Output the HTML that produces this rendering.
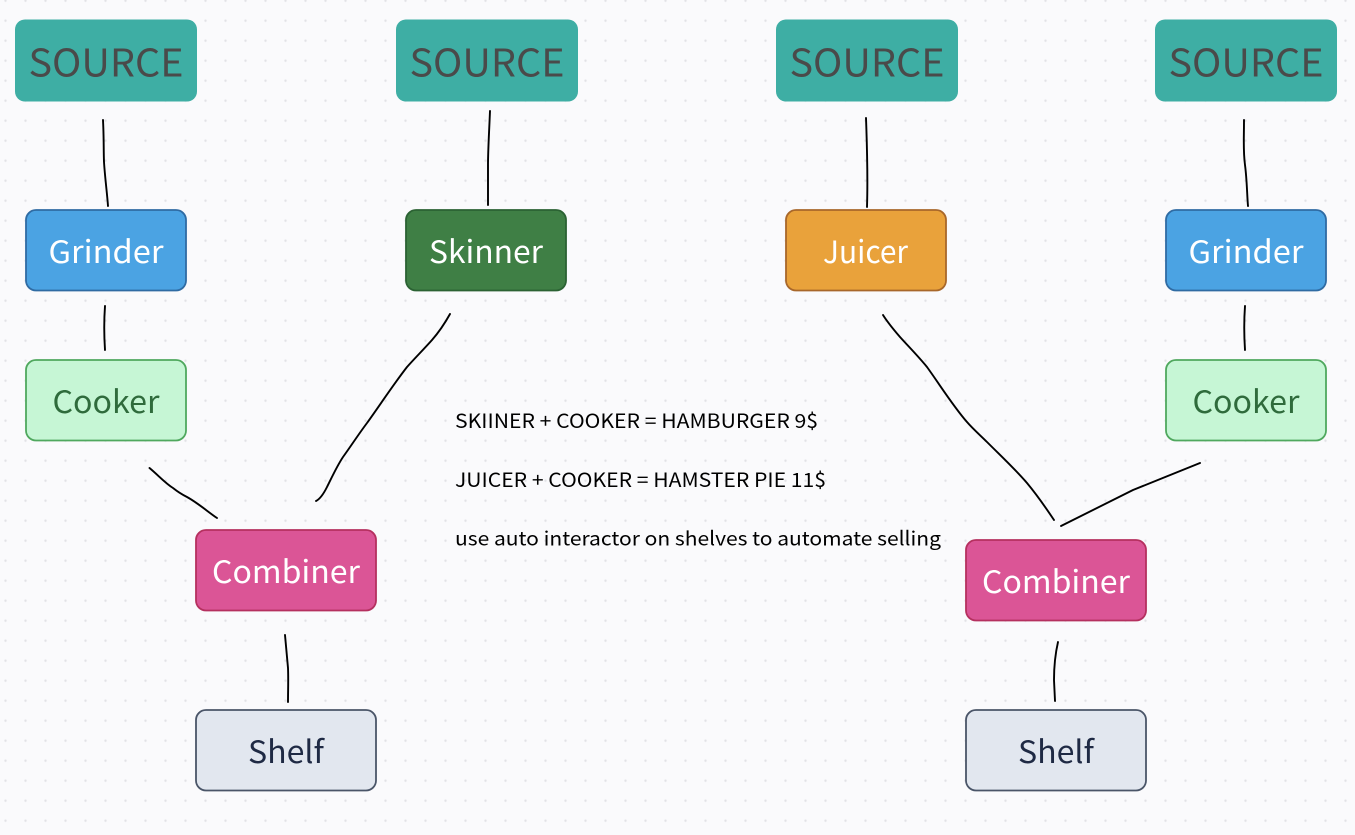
<!DOCTYPE html>
<html><head><meta charset="utf-8">
<style>
html,body{margin:0;padding:0;background:#fafafc;width:1355px;height:835px;overflow:hidden}
svg{display:block}
text{font-family:"Noto Sans CJK JP","Liberation Sans",sans-serif;text-anchor:middle}
.n{font-size:31px}
.s{font-size:38px;fill:#4a4a4a}
.t{font-size:19.5px;fill:#000;text-anchor:start}
.l{fill:none;stroke:#000;stroke-width:1.9;stroke-linecap:round;stroke-linejoin:round}
</style></head><body>
<svg width="1355" height="835" viewBox="0 0 1355 835" xmlns="http://www.w3.org/2000/svg">
<defs><pattern id="d" x="-14.5" y="0.7" width="20" height="20" patternUnits="userSpaceOnUse"><circle cx="20" cy="0" r="1.2" fill="#e2e2e6"/><circle cx="0" cy="0" r="1.2" fill="#e2e2e6"/><circle cx="20" cy="20" r="1.2" fill="#e2e2e6"/><circle cx="0" cy="20" r="1.2" fill="#e2e2e6"/></pattern></defs>
<rect width="1355" height="835" fill="#fafafc"/>
<rect width="1355" height="835" fill="url(#d)"/>

<g fill="#3eaea4">
<rect x="15" y="19.5" width="182" height="82" rx="10"/>
<rect x="396" y="19.5" width="182" height="82" rx="10"/>
<rect x="776" y="19.5" width="182" height="82" rx="10"/>
<rect x="1155" y="19.5" width="182" height="82" rx="10"/>
</g>
<text class="s" x="106" y="76.500" textLength="155" lengthAdjust="spacingAndGlyphs">SOURCE</text>
<text class="s" x="487" y="76.500" textLength="155" lengthAdjust="spacingAndGlyphs">SOURCE</text>
<text class="s" x="867" y="76.500" textLength="155" lengthAdjust="spacingAndGlyphs">SOURCE</text>
<text class="s" x="1246" y="76.500" textLength="155" lengthAdjust="spacingAndGlyphs">SOURCE</text>

<g stroke-width="1.8">
<rect x="26" y="210" width="160" height="80.5" rx="10" fill="#4ba3e3" stroke="#2f6ba3"/>
<rect x="1166" y="210" width="160" height="80.5" rx="10" fill="#4ba3e3" stroke="#2f6ba3"/>
<rect x="406" y="210" width="160" height="80.5" rx="10" fill="#3f7f45" stroke="#2b6233"/>
<rect x="786" y="210" width="160" height="80.5" rx="10" fill="#e9a23b" stroke="#a8672a"/>
<rect x="26" y="360" width="160" height="80.5" rx="10" fill="#c6f6d5" stroke="#4fa85e"/>
<rect x="1166" y="360" width="160" height="80.5" rx="10" fill="#c6f6d5" stroke="#4fa85e"/>
<rect x="196" y="530" width="180" height="80.5" rx="10" fill="#db5596" stroke="#b5305f"/>
<rect x="966" y="540" width="180" height="80.5" rx="10" fill="#db5596" stroke="#b5305f"/>
<rect x="196" y="710" width="180" height="80.5" rx="10" fill="#e2e7ef" stroke="#4a5568"/>
<rect x="966" y="710" width="180" height="80.5" rx="10" fill="#e2e7ef" stroke="#4a5568"/>
</g>

<g class="n">
<text class="n" x="106" y="263" fill="#fff" textLength="115" lengthAdjust="spacingAndGlyphs">Grinder</text>
<text class="n" x="1246" y="263" fill="#fff" textLength="115" lengthAdjust="spacingAndGlyphs">Grinder</text>
<text class="n" x="486" y="263" fill="#fff" textLength="114" lengthAdjust="spacingAndGlyphs">Skinner</text>
<text class="n" x="865.5" y="263" fill="#fff" textLength="85" lengthAdjust="spacingAndGlyphs">Juicer</text>
<text class="n" x="106" y="413" fill="#2f6b3c" textLength="107" lengthAdjust="spacingAndGlyphs">Cooker</text>
<text class="n" x="1246" y="413" fill="#2f6b3c" textLength="107" lengthAdjust="spacingAndGlyphs">Cooker</text>
<text class="n" x="286" y="583" fill="#fff" textLength="148" lengthAdjust="spacingAndGlyphs">Combiner</text>
<text class="n" x="1056" y="593" fill="#fff" textLength="148" lengthAdjust="spacingAndGlyphs">Combiner</text>
<text class="n" x="286" y="763" fill="#1f2a44" textLength="76" lengthAdjust="spacingAndGlyphs">Shelf</text>
<text class="n" x="1056" y="763" fill="#1f2a44" textLength="76" lengthAdjust="spacingAndGlyphs">Shelf</text>
</g>

<text class="t" x="455" y="428" textLength="363" lengthAdjust="spacingAndGlyphs">SKIINER + COOKER = HAMBURGER 9$</text>
<text class="t" x="455" y="487" textLength="371" lengthAdjust="spacingAndGlyphs">JUICER + COOKER = HAMSTER PIE 11$</text>
<text class="t" x="455" y="545.5" textLength="486" lengthAdjust="spacingAndGlyphs">use auto interactor on shelves to automate selling</text>

<path class="l" d="M103 120 C104 140 103.500 150 104 162 C105 178 107 192 108 206"/>
<path class="l" d="M490 111 C489 135 488 150 488 165 L488 205"/>
<path class="l" d="M866 118 C867 145 868 175 867 207"/>
<path class="l" d="M1244 120 C1244 140 1243 150 1245 165 C1247 180 1247 195 1248 206"/>
<path class="l" d="M105 306 C104 320 104 335 105 350"/>
<path class="l" d="M1245 306 C1244 320 1244 335 1245 350"/>
<path class="l" d="M149.500 468 C158 475 165 483 173 488 C178 492 183 495 187 497 C198 503 208 512 217 518"/>
<path class="l" d="M450 314 C445 323 439 332 432 340 C424 349 415 358 407 367 C393 385 380 405 367 423 C358 435 351 446 343 457 C337 466 332 477 327 487 C324 493 320 499 316 501"/>
<path class="l" d="M883 315 C888 323 894 330 900 337 C909 347 918 356 927 367 C940 385 953 406 967 422 C973 429 980 435 987 442 C1001 456 1015 469 1027 483 C1037 495 1046 508 1054 520"/>
<path class="l" d="M1200 463 C1178 472 1155 481 1133 490 C1109 502 1085 514 1061 526"/>
<path class="l" d="M285 635 L288 668 C288.500 680 288 690 288 702"/>
<path class="l" d="M1058 642 C1055 655 1054 670 1054 680 L1055 701"/>
</svg>
</body></html>
